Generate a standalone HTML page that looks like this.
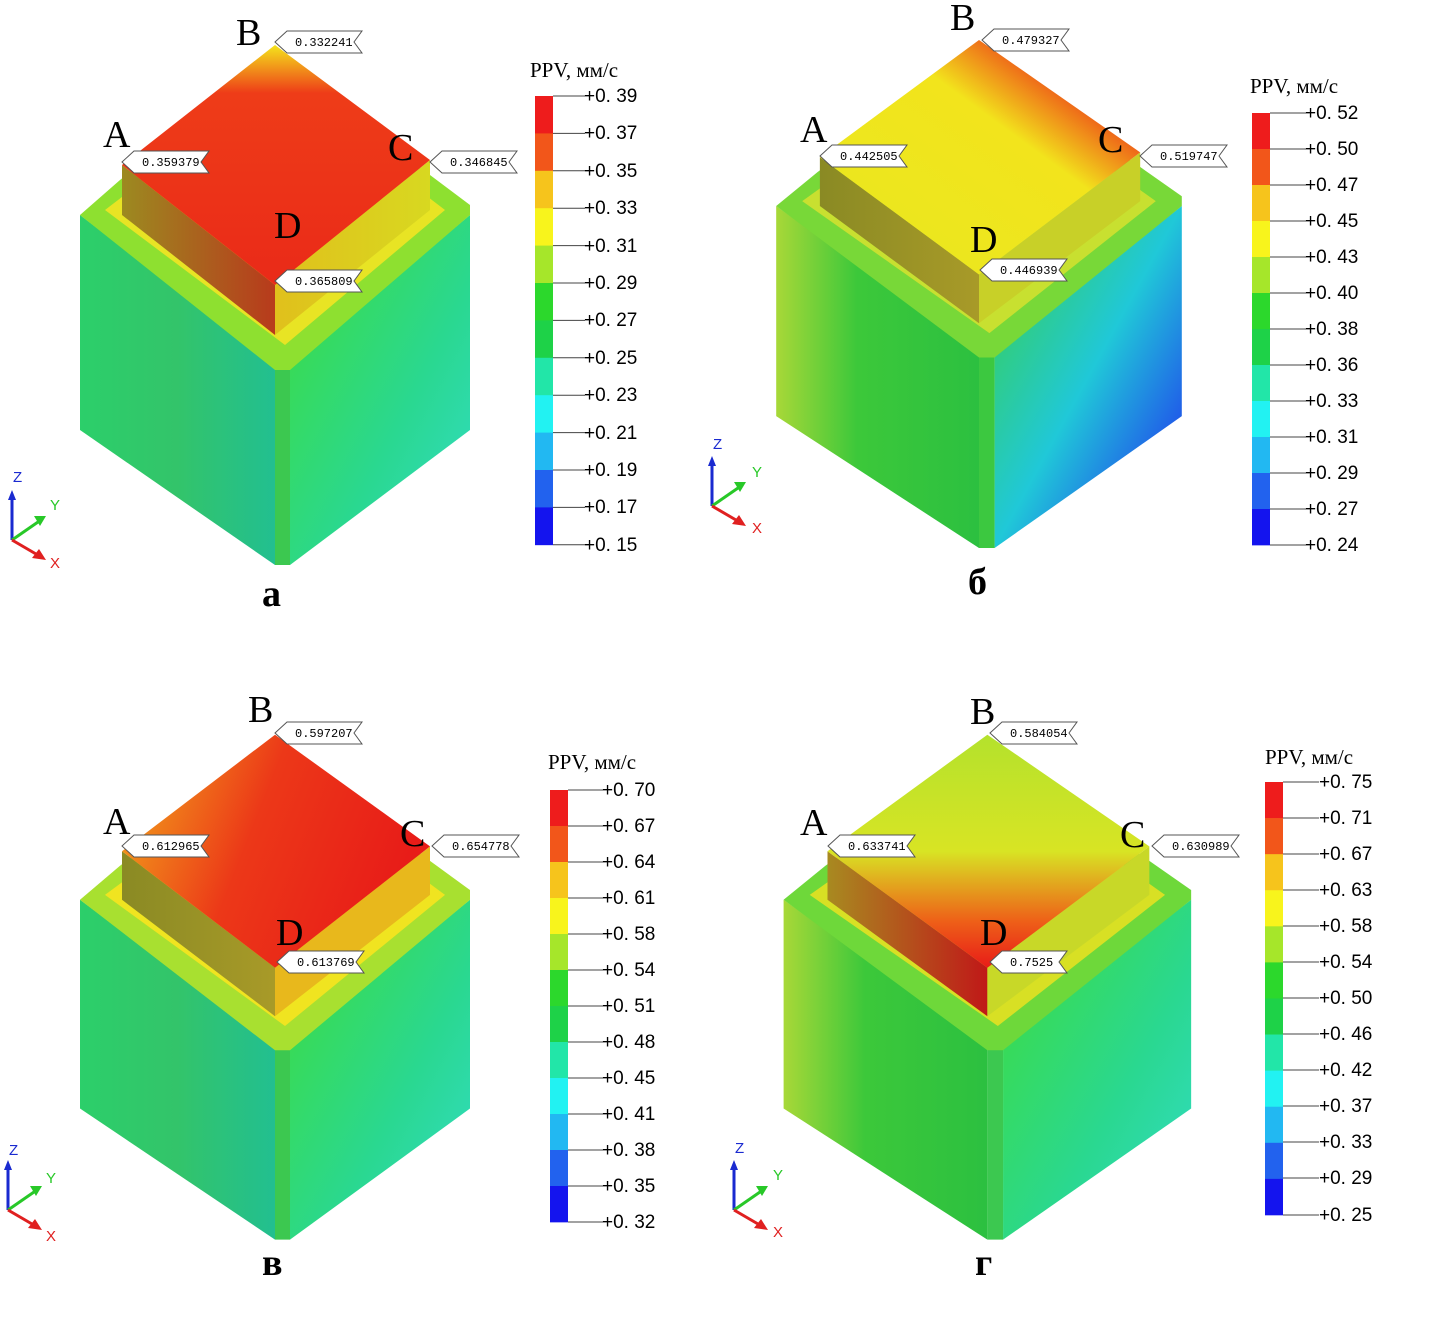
<!DOCTYPE html>
<html><head><meta charset="utf-8"><style>
html,body{margin:0;padding:0;background:#fff}
svg{display:block}
.L{font-family:"Liberation Serif",serif;font-size:38px}
.P{font-family:"Liberation Serif",serif;font-size:38px;font-weight:bold}
.cb{font-family:"Liberation Sans",sans-serif;font-size:19px}
.ct{font-family:"Liberation Mono",monospace;font-size:12px}
.ttl{font-family:"Liberation Serif",serif;font-size:21px}
.ax{font-family:"Liberation Sans",sans-serif;font-size:15px}
</style></head><body>
<svg width="1429" height="1320" viewBox="0 0 1429 1320" xmlns="http://www.w3.org/2000/svg">
<defs>
 <linearGradient id="gL" x1="0" y1="0" x2="1" y2="0"><stop offset="0" stop-color="#2ccf6a"/><stop offset=".5" stop-color="#33c46a"/><stop offset="1" stop-color="#22bf90"/></linearGradient>
 <linearGradient id="gR" x1="0" y1="0" x2="1" y2="1"><stop offset="0" stop-color="#3fdc3a"/><stop offset=".6" stop-color="#2ad890"/><stop offset="1" stop-color="#33dcc8"/></linearGradient>
 <linearGradient id="gR2" x1="0" y1="0" x2="1" y2="1"><stop offset="0" stop-color="#3cd040"/><stop offset=".5" stop-color="#20c8d8"/><stop offset=".8" stop-color="#2060e8"/><stop offset="1" stop-color="#30d080"/></linearGradient>
 <linearGradient id="gL2" x1="0" y1="0" x2="1" y2="0"><stop offset="0" stop-color="#a8d838"/><stop offset=".4" stop-color="#3cc83a"/><stop offset="1" stop-color="#2cc040"/></linearGradient>
 <linearGradient id="topA" x1="0" y1="0" x2="0" y2="1"><stop offset="0" stop-color="#f4e41c"/><stop offset=".2" stop-color="#ee3c18"/><stop offset="1" stop-color="#ea2a18"/></linearGradient>
 <linearGradient id="topB" x1="0" y1="1" x2="1" y2="0"><stop offset="0" stop-color="#e8e820"/><stop offset=".6" stop-color="#f2e41c"/><stop offset=".78" stop-color="#ee5818"/><stop offset="1" stop-color="#e81c18"/></linearGradient>
 <linearGradient id="topC" x1="0" y1="0" x2="1" y2="0.3"><stop offset="0" stop-color="#f2b01c"/><stop offset=".5" stop-color="#ec3818"/><stop offset="1" stop-color="#e81c18"/></linearGradient>
 <linearGradient id="topD" x1="0" y1="0" x2="0" y2="1"><stop offset="0" stop-color="#b4e22c"/><stop offset=".5" stop-color="#d8e424"/><stop offset=".8" stop-color="#ee6018"/><stop offset="1" stop-color="#e81c18"/></linearGradient>
 <linearGradient id="sideL" x1="0" y1="0" x2="1" y2="0"><stop offset="0" stop-color="#9c8a20"/><stop offset="1" stop-color="#b83a1c"/></linearGradient>
 <linearGradient id="sideLy" x1="0" y1="0" x2="1" y2="0"><stop offset="0" stop-color="#8a8a24"/><stop offset="1" stop-color="#a89a28"/></linearGradient>
 <linearGradient id="sideR" x1="0" y1="0" x2="1" y2="0"><stop offset="0" stop-color="#e0c01c"/><stop offset="1" stop-color="#d8d820"/></linearGradient>
 <linearGradient id="sideLr" x1="0" y1="0" x2="1" y2="0"><stop offset="0" stop-color="#a88a20"/><stop offset="1" stop-color="#c01818"/></linearGradient>
</defs>

<g transform="translate(0,0)">
 <path d="M80,215 L80,430 L275,565 L275,365 Z" fill="url(#gL)"/>
 <path d="M290,365 L470,215 L470,430 L290,565 Z" fill="url(#gR)"/>
 <rect x="275" y="365" width="15" height="200" fill="#3cc850"/>
 <path d="M80,215 L120,180 L275,60 L430,175 L470,205 L470,215 L290,370 L275,370 Z" fill="#8ee030"/>
 <path d="M105,210 L275,80 L445,210 L285,345 Z" fill="#e8e424"/>
 <path d="M122,165 L275,285 L275,335 L122,215 Z" fill="url(#sideL)"/>
 <path d="M275,285 L430,160 L430,210 L275,335 Z" fill="url(#sideR)"/>
 <path d="M275,45 L430,160 L275,285 L122,165 Z" fill="url(#topA)"/>
</g>
<g transform="translate(693,-4) scale(1.04,0.977)">
 <path d="M80,215 L80,430 L275,565 L275,365 Z" fill="url(#gL2)"/>
 <path d="M290,365 L470,215 L470,430 L290,565 Z" fill="url(#gR2)"/>
 <rect x="275" y="365" width="15" height="200" fill="#3cc840"/>
 <path d="M80,215 L120,180 L275,60 L430,175 L470,205 L470,215 L290,370 L275,370 Z" fill="#78d838"/>
 <path d="M105,210 L275,80 L445,210 L285,345 Z" fill="#c8e030"/>
 <path d="M122,165 L275,285 L275,335 L122,215 Z" fill="url(#sideLy)"/>
 <path d="M275,285 L430,160 L430,210 L275,335 Z" fill="#c8d028"/>
 <path d="M275,45 L430,160 L275,285 L122,165 Z" fill="url(#topB)"/>
</g>
<g transform="translate(0,691) scale(1,0.971)">
 <path d="M80,215 L80,430 L275,565 L275,365 Z" fill="url(#gL)"/>
 <path d="M290,365 L470,215 L470,430 L290,565 Z" fill="url(#gR)"/>
 <rect x="275" y="365" width="15" height="200" fill="#3cc850"/>
 <path d="M80,215 L120,180 L275,60 L430,175 L470,205 L470,215 L290,370 L275,370 Z" fill="#a8e030"/>
 <path d="M105,210 L275,80 L445,210 L285,345 Z" fill="#f0e420"/>
 <path d="M122,165 L275,285 L275,335 L122,215 Z" fill="url(#sideLy)"/>
 <path d="M275,285 L430,160 L430,210 L275,335 Z" fill="#e8b81c"/>
 <path d="M275,45 L430,160 L275,285 L122,165 Z" fill="url(#topC)"/>
</g>
<g transform="translate(700,691) scale(1.045,0.971)">
 <path d="M80,215 L80,430 L275,565 L275,365 Z" fill="url(#gL2)"/>
 <path d="M290,365 L470,215 L470,430 L290,565 Z" fill="url(#gR)"/>
 <rect x="275" y="365" width="15" height="200" fill="#3cc850"/>
 <path d="M80,215 L120,180 L275,60 L430,175 L470,205 L470,215 L290,370 L275,370 Z" fill="#6ed83a"/>
 <path d="M105,210 L275,80 L445,210 L285,345 Z" fill="#d8e024"/>
 <path d="M122,165 L275,285 L275,335 L122,215 Z" fill="url(#sideLr)"/>
 <path d="M275,285 L430,160 L430,210 L275,335 Z" fill="#c8d828"/>
 <path d="M275,45 L430,160 L275,285 L122,165 Z" fill="url(#topD)"/>
</g>

<g class="L">
 <text x="236" y="45">B</text><text x="103" y="147">A</text><text x="388" y="160">C</text><text x="274" y="238">D</text>
 <text x="950" y="30">B</text><text x="800" y="142">A</text><text x="1098" y="152">C</text><text x="970" y="252">D</text>
 <text x="248" y="722">B</text><text x="103" y="834">A</text><text x="400" y="846">C</text><text x="276" y="945">D</text>
 <text x="970" y="724">B</text><text x="800" y="835">A</text><text x="1120" y="847">C</text><text x="980" y="945">D</text>
</g>
<g class="P">
 <text x="262" y="606">а</text><text x="968" y="594">б</text><text x="262" y="1275">в</text><text x="975" y="1275">г</text>
</g>

<g fill="#fff" stroke="#555" stroke-width="1">
 <path d="M275,42 l12,-11 h75 l-8,11 l8,11 h-75 z"/>
 <path d="M122,162 l12,-11 h75 l-8,11 l8,11 h-75 z"/>
 <path d="M430,162 l12,-11 h75 l-8,11 l8,11 h-75 z"/>
 <path d="M275,281 l12,-11 h75 l-8,11 l8,11 h-75 z"/>
 <path d="M982,40 l12,-11 h75 l-8,11 l8,11 h-75 z"/>
 <path d="M820,156 l12,-11 h75 l-8,11 l8,11 h-75 z"/>
 <path d="M1140,156 l12,-11 h75 l-8,11 l8,11 h-75 z"/>
 <path d="M980,270 l12,-11 h75 l-8,11 l8,11 h-75 z"/>
 <path d="M275,733 l12,-11 h75 l-8,11 l8,11 h-75 z"/>
 <path d="M122,846 l12,-11 h75 l-8,11 l8,11 h-75 z"/>
 <path d="M432,846 l12,-11 h75 l-8,11 l8,11 h-75 z"/>
 <path d="M277,962 l12,-11 h75 l-8,11 l8,11 h-75 z"/>
 <path d="M990,733 l12,-11 h75 l-8,11 l8,11 h-75 z"/>
 <path d="M828,846 l12,-11 h75 l-8,11 l8,11 h-75 z"/>
 <path d="M1152,846 l12,-11 h75 l-8,11 l8,11 h-75 z"/>
 <path d="M990,962 l12,-11 h65 l-8,11 l8,11 h-65 z"/>
</g>
<g class="ct" fill="#000">
 <text x="295" y="46">0.332241</text><text x="142" y="166">0.359379</text><text x="450" y="166">0.346845</text><text x="295" y="285">0.365809</text>
 <text x="1002" y="44">0.479327</text><text x="840" y="160">0.442505</text><text x="1160" y="160">0.519747</text><text x="1000" y="274">0.446939</text>
 <text x="295" y="737">0.597207</text><text x="142" y="850">0.612965</text><text x="452" y="850">0.654778</text><text x="297" y="966">0.613769</text>
 <text x="1010" y="737">0.584054</text><text x="848" y="850">0.633741</text><text x="1172" y="850">0.630989</text><text x="1010" y="966">0.7525</text>
</g>

<defs>
 <g id="bands">
  <rect y="0" width="18" height="1.01" fill="#ee1c1c"/>
  <rect y="1" width="18" height="1.01" fill="#f2561a"/>
  <rect y="2" width="18" height="1.01" fill="#f6c41c"/>
  <rect y="3" width="18" height="1.01" fill="#f8f41c"/>
  <rect y="4" width="18" height="1.01" fill="#a6e62a"/>
  <rect y="5" width="18" height="1.01" fill="#2cd82c"/>
  <rect y="6" width="18" height="1.01" fill="#1ed248"/>
  <rect y="7" width="18" height="1.01" fill="#22e6a8"/>
  <rect y="8" width="18" height="1.01" fill="#22f2f2"/>
  <rect y="9" width="18" height="1.01" fill="#22b8f2"/>
  <rect y="10" width="18" height="1.01" fill="#2262ee"/>
  <rect y="11" width="18" height="1.01" fill="#1414ee"/>
 </g>
</defs>
<use href="#bands" transform="translate(535,96) scale(1,37.4)"/>
<use href="#bands" transform="translate(1252,113) scale(1,36)"/>
<use href="#bands" transform="translate(550,790) scale(1,36)"/>
<use href="#bands" transform="translate(1265,782) scale(1,36.08)"/>
<g stroke="#444" stroke-width="1">
 <path d="M553,96h32M553,133.4h32M553,170.8h32M553,208.2h32M553,245.6h32M553,283h32M553,320.4h32M553,357.8h32M553,395.2h32M553,432.6h32M553,470h32M553,507.4h32M553,544.8h32"/>
 <path d="M1270,113h36M1270,149h36M1270,185h36M1270,221h36M1270,257h36M1270,293h36M1270,329h36M1270,365h36M1270,401h36M1270,437h36M1270,473h36M1270,509h36M1270,545h36"/>
 <path d="M568,790h35M568,826h35M568,862h35M568,898h35M568,934h35M568,970h35M568,1006h35M568,1042h35M568,1078h35M568,1114h35M568,1150h35M568,1186h35M568,1222h35"/>
 <path d="M1283,782h36M1283,818h36M1283,854h36M1283,890h36M1283,926h36M1283,962h36M1283,998h36M1283,1034h36M1283,1070h36M1283,1106h36M1283,1142h36M1283,1178h36M1283,1215h36"/>
</g>
<g class="ttl">
 <text x="530" y="77">PPV, мм/с</text>
 <text x="1250" y="93">PPV, мм/с</text>
 <text x="548" y="769">PPV, мм/с</text>
 <text x="1265" y="764">PPV, мм/с</text>
</g>
<g class="cb">
 <text x="584" y="102">+0. 39</text><text x="584" y="139">+0. 37</text><text x="584" y="177">+0. 35</text><text x="584" y="214">+0. 33</text><text x="584" y="252">+0. 31</text><text x="584" y="289">+0. 29</text><text x="584" y="326">+0. 27</text><text x="584" y="364">+0. 25</text><text x="584" y="401">+0. 23</text><text x="584" y="439">+0. 21</text><text x="584" y="476">+0. 19</text><text x="584" y="513">+0. 17</text><text x="584" y="551">+0. 15</text>
 <text x="1305" y="119">+0. 52</text><text x="1305" y="155">+0. 50</text><text x="1305" y="191">+0. 47</text><text x="1305" y="227">+0. 45</text><text x="1305" y="263">+0. 43</text><text x="1305" y="299">+0. 40</text><text x="1305" y="335">+0. 38</text><text x="1305" y="371">+0. 36</text><text x="1305" y="407">+0. 33</text><text x="1305" y="443">+0. 31</text><text x="1305" y="479">+0. 29</text><text x="1305" y="515">+0. 27</text><text x="1305" y="551">+0. 24</text>
 <text x="602" y="796">+0. 70</text><text x="602" y="832">+0. 67</text><text x="602" y="868">+0. 64</text><text x="602" y="904">+0. 61</text><text x="602" y="940">+0. 58</text><text x="602" y="976">+0. 54</text><text x="602" y="1012">+0. 51</text><text x="602" y="1048">+0. 48</text><text x="602" y="1084">+0. 45</text><text x="602" y="1120">+0. 41</text><text x="602" y="1156">+0. 38</text><text x="602" y="1192">+0. 35</text><text x="602" y="1228">+0. 32</text>
 <text x="1319" y="788">+0. 75</text><text x="1319" y="824">+0. 71</text><text x="1319" y="860">+0. 67</text><text x="1319" y="896">+0. 63</text><text x="1319" y="932">+0. 58</text><text x="1319" y="968">+0. 54</text><text x="1319" y="1004">+0. 50</text><text x="1319" y="1040">+0. 46</text><text x="1319" y="1076">+0. 42</text><text x="1319" y="1112">+0. 37</text><text x="1319" y="1148">+0. 33</text><text x="1319" y="1184">+0. 29</text><text x="1319" y="1221">+0. 25</text>
</g>

<defs>
 <g id="tri">
  <path d="M0,0 V-42" stroke="#1a2ad0" stroke-width="3"/><path d="M-4,-40 L0,-50 L4,-40 Z" fill="#1a2ad0"/>
  <path d="M0,0 L26,-18" stroke="#28c828" stroke-width="3"/><path d="M22,-24 L34,-24 L28,-14 Z" fill="#28c828"/>
  <path d="M0,0 L24,14" stroke="#e02020" stroke-width="3"/><path d="M20,18 L34,20 L27,9 Z" fill="#e02020"/>
 </g>
</defs>
<use href="#tri" transform="translate(12,540)"/>
<use href="#tri" transform="translate(712,506)"/>
<use href="#tri" transform="translate(8,1210)"/>
<use href="#tri" transform="translate(734,1210)"/>
<g class="ax">
 <text x="13" y="482" fill="#1a2ad0">Z</text><text x="50" y="510" fill="#28c828">Y</text><text x="50" y="568" fill="#e02020">X</text>
 <text x="713" y="449" fill="#1a2ad0">Z</text><text x="752" y="477" fill="#28c828">Y</text><text x="752" y="533" fill="#e02020">X</text>
 <text x="9" y="1155" fill="#1a2ad0">Z</text><text x="46" y="1183" fill="#28c828">Y</text><text x="46" y="1241" fill="#e02020">X</text>
 <text x="735" y="1153" fill="#1a2ad0">Z</text><text x="773" y="1180" fill="#28c828">Y</text><text x="773" y="1237" fill="#e02020">X</text>
</g>
</svg>
</body></html>
